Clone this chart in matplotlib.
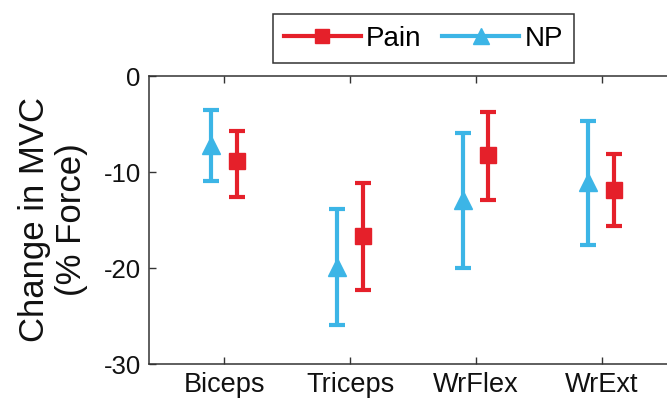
import numpy as np
import matplotlib
matplotlib.use("Agg")
import matplotlib.pyplot as plt
from matplotlib.lines import Line2D

muscles = ["Biceps", "Triceps", "WrFlex", "WrExt"]
np_mean = [-7.2, -19.9, -12.9, -11.0]
np_upper = [-3.5, -13.9, -5.9, -4.65]
np_lower = [-10.9, -25.9, -20.0, -17.6]
pain_mean = [-8.85, -16.7, -8.2, -11.9]
pain_upper = [-5.7, -11.1, -3.7, -8.1]
pain_lower = [-12.6, -22.3, -12.9, -15.6]

RED = "#E5202A"
BLUE = "#3CB5E6"

plt.rcParams["font.family"] = ["Liberation Sans", "DejaVu Sans"]
plt.rcParams["axes.unicode_minus"] = False

fig = plt.figure(figsize=(6.67, 4.07), dpi=100)
ax = fig.add_axes([149 / 667, 43 / 407, 528 / 667, 288 / 407])

x = np.arange(1, len(muscles) + 1)
npm = np.array(np_mean)
pm = np.array(pain_mean)
np_err = [npm - np.array(np_lower), np.array(np_upper) - npm]
p_err = [pm - np.array(pain_lower), np.array(pain_upper) - pm]

ax.errorbar(x - 0.105, npm, yerr=np_err, fmt="^", color=BLUE, ecolor=BLUE,
            markersize=13, elinewidth=3, capsize=6, capthick=3, zorder=3)
ax.errorbar(x + 0.1, pm, yerr=p_err, fmt="s", color=RED, ecolor=RED,
            markersize=11, elinewidth=3, capsize=6, capthick=3, zorder=3)

ax.set_xlim(0.4, 4.6)
ax.set_ylim(-30, 0)
ax.set_yticks([0, -10, -20, -30])
ax.set_xticks(x)
ax.set_xticklabels(muscles, fontsize=19.5)
ax.tick_params(axis="y", labelsize=18.5)
ax.tick_params(direction="in", length=5, width=1, top=True, right=True,
               color="#333333", labelcolor="#111111", pad=6)
for sp in ax.spines.values():
    sp.set_linewidth(1.1)
    sp.set_color("#333333")

ax.set_ylabel("Change in MVC\n(% Force)", fontsize=25, linespacing=1.15,
              ha="center", va="center", color="#111111")
ax.yaxis.set_label_coords(-0.182, 0.5)

handles = [
    Line2D([], [], color=RED, marker="s", markersize=10, lw=3),
    Line2D([], [], color=BLUE, marker="^", markersize=12, lw=3),
]
leg = fig.legend(handles, ["Pain", "NP"], ncol=2, loc="center",
                 bbox_to_anchor=(423.5 / 667, 1 - 38.5 / 407),
                 fontsize=20, handlelength=2.75, handletextpad=0.2,
                 columnspacing=0.75, borderpad=0.4, borderaxespad=0,
                 fancybox=False, framealpha=1, edgecolor="#333333")
leg.get_frame().set_linewidth(1.1)

fig.savefig("out.png", dpi=100)
